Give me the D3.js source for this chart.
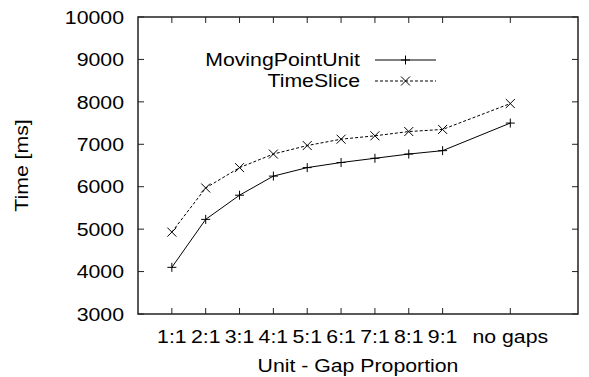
<!DOCTYPE html>
<html>
<head>
<meta charset="UTF-8">
<title>Unit - Gap Proportion</title>
<script src="https://cdn.jsdelivr.net/npm/d3@7"></script>
<style type="text/css">
body, html {
    margin: 0;
    background: #fff;
}
text {
    font-family: "Liberation Sans", Arial, sans-serif;
    font-size: 18.5px;
    fill: #000;
}
</style>
</head>
<body>
<div class="chart"></div>
<script type="text/javascript">
// data
var categories = ["1:1", "2:1", "3:1", "4:1", "5:1", "6:1", "7:1", "8:1", "9:1", "no gaps"];
var positions  = [1, 2, 3, 4, 5, 6, 7, 8, 9, 11];
var movingPointUnit = [4100, 5230, 5800, 6250, 6450, 6570, 6670, 6770, 6850, 7500];
var timeSlice       = [4930, 5970, 6450, 6770, 6970, 7120, 7200, 7300, 7350, 7960];
var yTicks = [3000, 4000, 5000, 6000, 7000, 8000, 9000, 10000];

var W = 589, H = 377,
    margin = {top: 17, right: 11, bottom: 63, left: 138},
    width  = W - margin.left - margin.right,
    height = H - margin.top - margin.bottom,
    SX = 1.15;   // the original text is drawn a bit wide

var x = d3.scaleLinear().domain([0, 13]).range([0, width]),
    y = d3.scaleLinear().domain([3000, 10000]).range([height, 0]);

var svg = d3.select(".chart").append("svg")
    .attr("width", W)
    .attr("height", H);

var g = svg.append("g")
    .attr("transform", "translate(" + margin.left + "," + margin.top + ")");

function place(sel, px, py, rot) {
    return sel.attr("transform", "translate(" + px + "," + py + ")" + (rot ? " rotate(" + rot + ")" : "") + " scale(" + SX + ",1)");
}

// ticks on all four sides, pointing in
var tickLen = 6, axisColor = "#222";
var ticks = g.append("g").attr("stroke", axisColor).attr("stroke-width", 1);
yTicks.forEach(function (t) {
    ticks.append("line").attr("x1", 0).attr("x2", tickLen).attr("y1", y(t)).attr("y2", y(t));
    ticks.append("line").attr("x1", width).attr("x2", width - tickLen).attr("y1", y(t)).attr("y2", y(t));
    place(g.append("text"), -14, y(t), 0)
        .attr("text-anchor", "end")
        .attr("dy", "0.36em")
        .text(t);
});
positions.forEach(function (p, i) {
    ticks.append("line").attr("x1", x(p)).attr("x2", x(p)).attr("y1", height).attr("y2", height - tickLen);
    ticks.append("line").attr("x1", x(p)).attr("x2", x(p)).attr("y1", 0).attr("y2", tickLen);
    place(g.append("text"), x(p), height + 29, 0)
        .attr("text-anchor", "middle")
        .text(categories[i]);
});

g.append("rect")
    .attr("width", width)
    .attr("height", height)
    .attr("fill", "none")
    .attr("stroke", axisColor)
    .attr("stroke-width", 1.5);

// axis titles
place(g.append("text"), width / 2, height + 58, 0)
    .attr("text-anchor", "middle")
    .text("Unit - Gap Proportion");
place(g.append("text"), -110, y(6500), -90)
    .attr("text-anchor", "middle")
    .text("Time [ms]");

// series
var series = [
    {name: "MovingPointUnit", values: movingPointUnit, dash: null, marker: "plus"},
    {name: "TimeSlice", values: timeSlice, dash: "3,2", marker: "cross"}
];

var line = d3.line()
    .x(function (d) { return x(d[0]); })
    .y(function (d) { return y(d[1]); });

function marker(sel, kind, cx, cy) {
    var s = 4.5;
    var path = kind === "plus"
        ? "M" + (cx - s) + "," + cy + "H" + (cx + s) + "M" + cx + "," + (cy - s) + "V" + (cy + s)
        : "M" + (cx - s) + "," + (cy - s) + "L" + (cx + s) + "," + (cy + s) + "M" + (cx - s) + "," + (cy + s) + "L" + (cx + s) + "," + (cy - s);
    sel.append("path").attr("d", path).attr("stroke", "#000").attr("stroke-width", 1).attr("fill", "none");
}

series.forEach(function (s) {
    var pts = positions.map(function (p, i) { return [p, s.values[i]]; });
    g.append("path")
        .datum(pts)
        .attr("d", line)
        .attr("fill", "none")
        .attr("stroke", "#000")
        .attr("stroke-width", 1)
        .attr("stroke-dasharray", s.dash);
    pts.forEach(function (d) {
        marker(g, s.marker, x(d[0]), y(d[1]));
    });
});

// legend
var legend = g.append("g").attr("transform", "translate(" + (375 - margin.left) + "," + (60 - margin.top) + ")");
series.forEach(function (s, i) {
    var ly = i * 21;
    legend.append("line")
        .attr("x1", 0).attr("x2", 61)
        .attr("y1", ly).attr("y2", ly)
        .attr("stroke", "#000")
        .attr("stroke-width", 1)
        .attr("stroke-dasharray", s.dash);
    marker(legend, s.marker, 30.5, ly);
    place(legend.append("text"), -15, ly + 6, 0)
        .attr("text-anchor", "end")
        .text(s.name);
});
</script>
</body>
</html>
